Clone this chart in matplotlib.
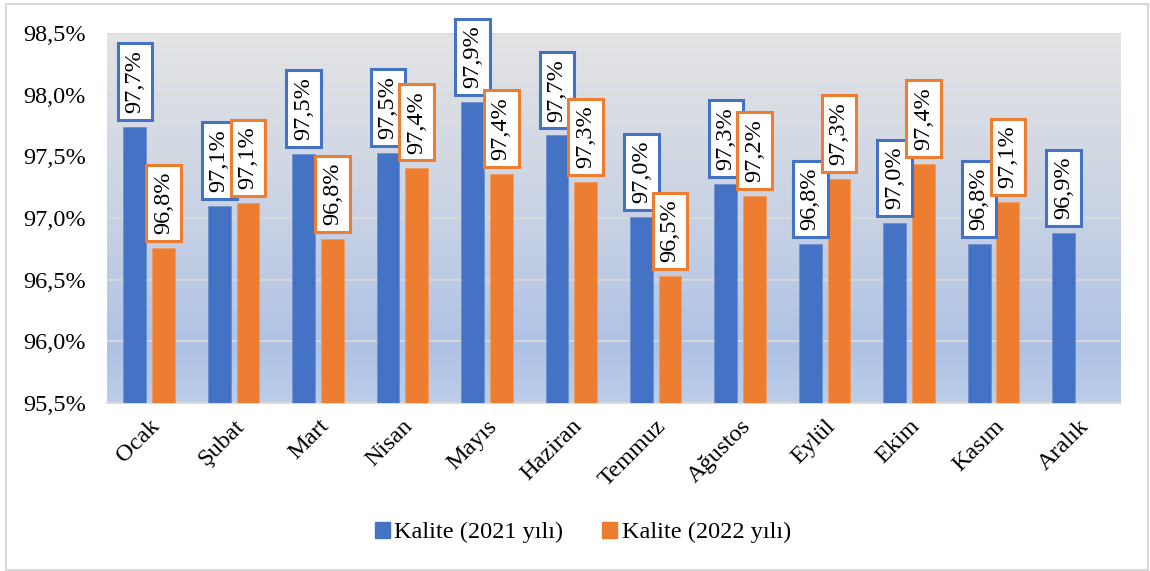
import numpy as np
import matplotlib
matplotlib.use("Agg")
import matplotlib.pyplot as plt
from matplotlib.patches import Patch, Rectangle
from matplotlib.colors import LinearSegmentedColormap

plt.rcParams['font.family'] = ['Liberation Serif', 'DejaVu Serif']

months = ['Ocak', 'Şubat', 'Mart', 'Nisan', 'Mayıs', 'Haziran', 'Temmuz',
          'Ağustos', 'Eylül', 'Ekim', 'Kasım', 'Aralık']
kalite_2021 = [97.74, 97.10, 97.52, 97.53, 97.94, 97.67, 97.01, 97.28, 96.79, 96.96, 96.79, 96.88]
kalite_2022 = [96.76, 97.12, 96.83, 97.41, 97.36, 97.29, 96.53, 97.18, 97.32, 97.44, 97.13]
lbl_2021 = ['97,7%', '97,1%', '97,5%', '97,5%', '97,9%', '97,7%', '97,0%', '97,3%', '96,8%', '97,0%', '96,8%', '96,9%']
lbl_2022 = ['96,8%', '97,1%', '96,8%', '97,4%', '97,4%', '97,3%', '96,5%', '97,2%', '97,3%', '97,4%', '97,1%']
yticks = [95.5, 96.0, 96.5, 97.0, 97.5, 98.0, 98.5]

blue = '#4472C4'
orange = '#ED7D31'
fs = 17.5

fig = plt.figure(figsize=(11.5, 5.71), dpi=100)
ax = fig.add_axes([0.093, 0.294, 0.881, 0.648])

# gradient background (top grey -> blue)
cmap = LinearSegmentedColormap.from_list(
    'bg', [(0, '#E4E4E4'), (0.5, '#C8D2E5'), (0.85, '#AFC2E4'), (1.0, '#BCCDEA')])
grad = np.linspace(0, 1, 256).reshape(-1, 1)
ax.imshow(grad, cmap=cmap, aspect='auto', extent=[0, 1, 0, 1],
          transform=ax.transAxes, zorder=0)

x = np.arange(len(months))
w = 0.27
off = 0.17
ax.bar(x - off, kalite_2021, w, color=blue, edgecolor='#6E90D0', lw=0.6, zorder=3)
x2 = x[:len(kalite_2022)]
ax.bar(x2 + off, kalite_2022, w, color=orange, edgecolor='#F29A5C', lw=0.6, zorder=3)

for xi, v, t in zip(x - off, kalite_2021, lbl_2021):
    ax.annotate(t, (xi, v), xytext=(0, 10), textcoords='offset points',
                rotation=90, ha='center', va='bottom', fontsize=fs, zorder=5,
                bbox=dict(boxstyle='square,pad=0.28', fc='white', ec=blue, lw=2.2))
for xi, v, t in zip(x2 + off, kalite_2022, lbl_2022):
    ax.annotate(t, (xi, v), xytext=(0, 10), textcoords='offset points',
                rotation=90, ha='center', va='bottom', fontsize=fs, zorder=5,
                bbox=dict(boxstyle='square,pad=0.28', fc='white', ec=orange, lw=2.2))

ax.set_xlim(-0.5, len(months) - 0.5)
ax.set_ylim(95.5, 98.5)
ax.set_yticks(yticks)
ax.set_yticklabels([('%.1f%%' % v).replace('.', ',') for v in yticks], fontsize=fs)
ax.set_xticks(x)
ax.set_xticklabels(months, rotation=45, ha='right', rotation_mode='anchor', fontsize=fs)
ax.tick_params(axis='both', length=0)
ax.tick_params(axis='x', pad=9)
ax.tick_params(axis='y', pad=15)
ax.grid(axis='y', color='#D9D9D9', lw=1.3, zorder=1)
for s in ['left', 'right', 'top']:
    ax.spines[s].set_visible(False)
ax.spines['bottom'].set_color('#D9D9D9')
ax.spines['bottom'].set_linewidth(1.3)

handles = [Patch(color=blue), Patch(color=orange)]
fig.legend(handles, ['Kalite (2021 yılı)', 'Kalite (2022 yılı)'], loc='center',
           bbox_to_anchor=(0.507, 0.067), ncol=2, frameon=False, fontsize=fs,
           handlelength=0.6, handleheight=0.6, handletextpad=0.2, columnspacing=1.6)

fig.patches.append(Rectangle((6 / 1150, 1 / 571), 1142 / 1150, 566 / 571,
                             transform=fig.transFigure, fill=False,
                             ec='#D9D9D9', lw=1.5))

fig.savefig('out.png', dpi=100)
